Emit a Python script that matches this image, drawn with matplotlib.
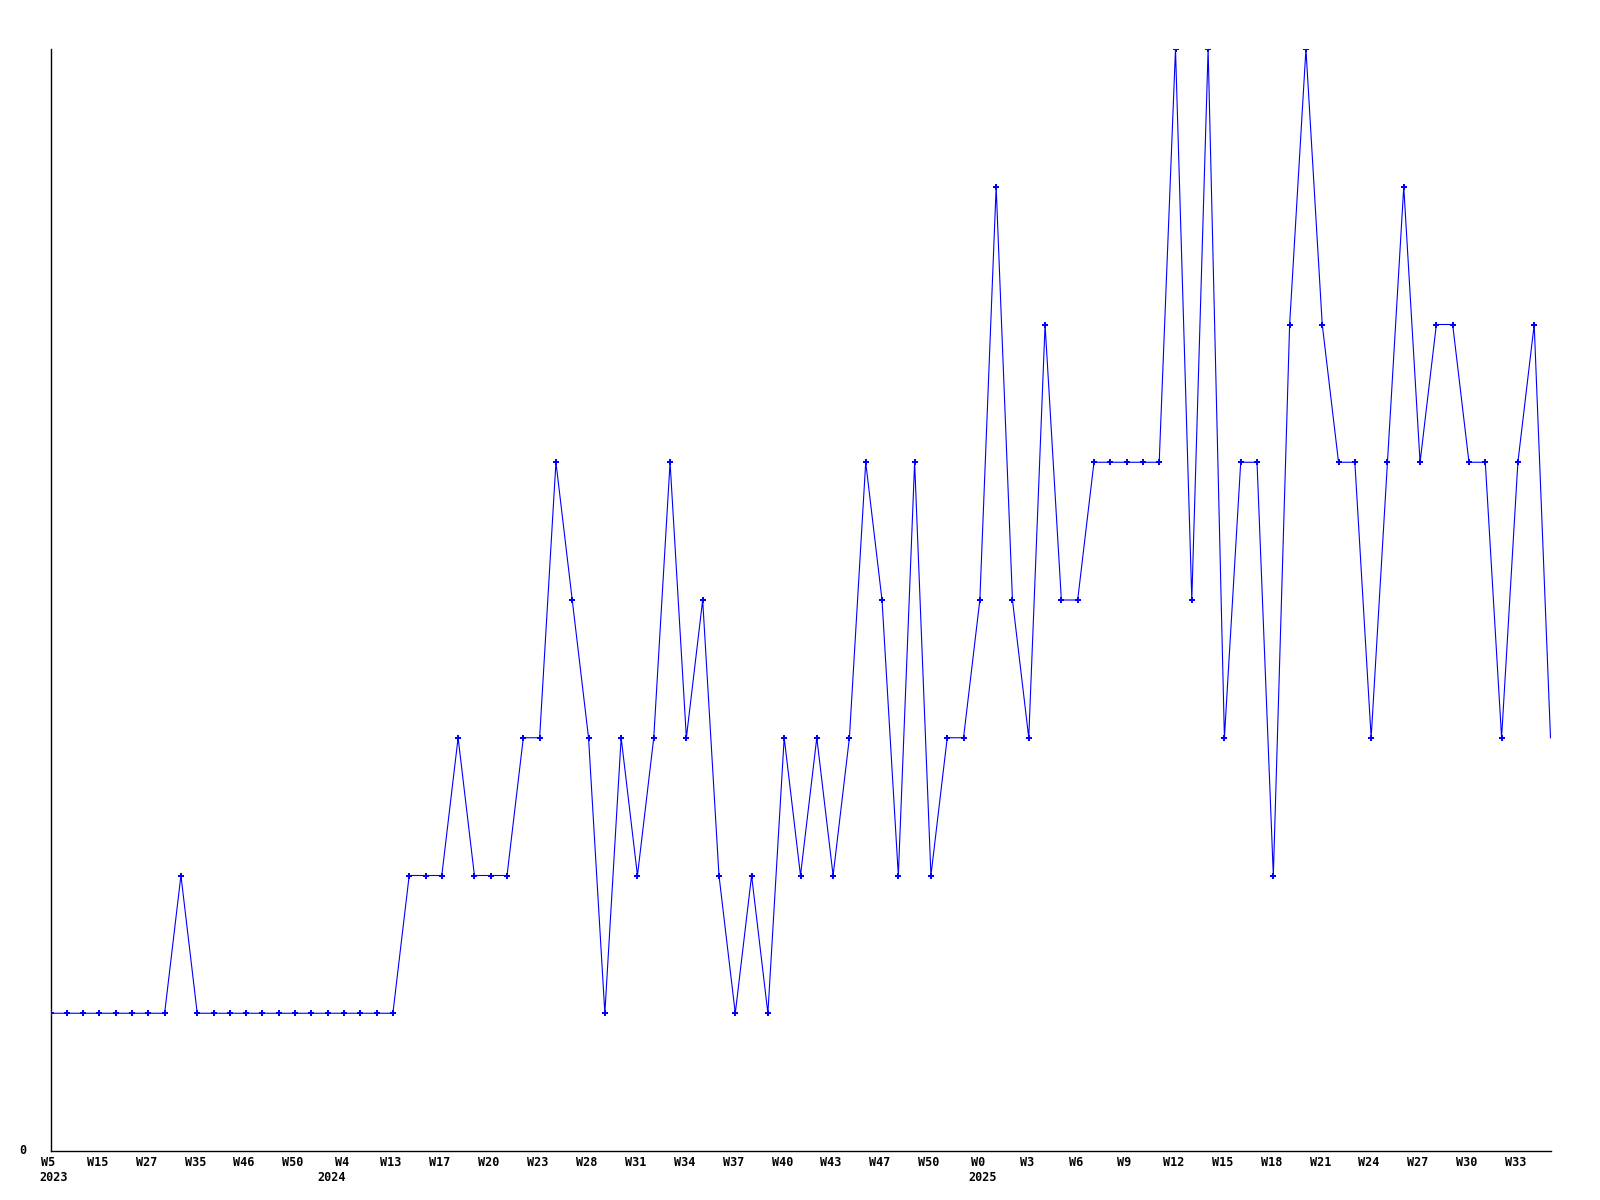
import matplotlib
matplotlib.use("Agg")
import matplotlib.pyplot as plt
import matplotlib.transforms as mtransforms

values = [1, 1, 1, 1, 1, 1, 1, 1, 2, 1,
          1, 1, 1, 1, 1, 1, 1, 1, 1, 1,
          1, 1, 2, 2, 2, 3, 2, 2, 2, 3,
          3, 5, 4, 3, 1, 3, 2, 3, 5, 3,
          4, 2, 1, 2, 1, 3, 2, 3, 2, 3,
          5, 4, 2, 5, 2, 3, 3, 4, 7, 4,
          3, 6, 4, 4, 5, 5, 5, 5, 5, 8,
          4, 8, 3, 5, 5, 2, 6, 8, 6, 5,
          5, 3, 5, 7, 5, 6, 6, 5, 5, 3,
          5, 6, 3]

tick_labels = ["W5", "W15", "W27", "W35", "W46", "W50", "W4", "W13", "W17", "W20",
               "W23", "W28", "W31", "W34", "W37", "W40", "W43", "W47", "W50", "W0",
               "W3", "W6", "W9", "W12", "W15", "W18", "W21", "W24", "W27", "W30", "W33"]
tick_step = 3
year_positions = [0, 18, 57]
year_labels = ["2023", "2024", "2025"]
year_shift_px = [3, -12, 3]

fig = plt.figure(figsize=(16, 12), dpi=100)
ax = fig.add_axes([50.5 / 1600, 1 - 1151 / 1200, (1550.5 - 50.5) / 1600, (1151 - 49) / 1200])

x = list(range(len(values)))
ax.plot(x, values, color=(0, 0, 1), linewidth=0.8, zorder=3)
ax.plot(x[:-1], values[:-1], linestyle="none", marker="P", markersize=4.6,
        color=(0, 0, 1), markeredgewidth=0, zorder=4)

ax.set_xlim(0, len(values) - 1)
ax.set_ylim(0, max(values))

for s in ["top", "right"]:
    ax.spines[s].set_visible(False)
for s in ["left", "bottom"]:
    ax.spines[s].set_linewidth(1.0)
    ax.spines[s].set_color("black")

font = dict(family="DejaVu Sans Mono", fontweight="bold", fontsize=8.5, color="black")

ax.set_xticks([])
ax.set_yticks([])

px = 1 / 100.0
base = mtransforms.blended_transform_factory(ax.transData, ax.transAxes)


def shifted(dx, dy):
    return base + mtransforms.ScaledTranslation(dx * px, dy * px, fig.dpi_scale_trans)


for k, lab in enumerate(tick_labels):
    ax.text(k * tick_step, 0, lab, transform=shifted(-2, -5), ha="center", va="top",
            clip_on=False, **font)

for xi, yr, dx in zip(year_positions, year_labels, year_shift_px):
    ax.text(xi, 0, yr, transform=shifted(dx, -20), ha="center", va="top",
            clip_on=False, **font)

ax.text(0, 0, "0", transform=ax.transData + mtransforms.ScaledTranslation(-24 * px, 1 * px, fig.dpi_scale_trans),
        ha="right", va="center", clip_on=False, **font)

fig.savefig("out.png", dpi=100, facecolor="white")
